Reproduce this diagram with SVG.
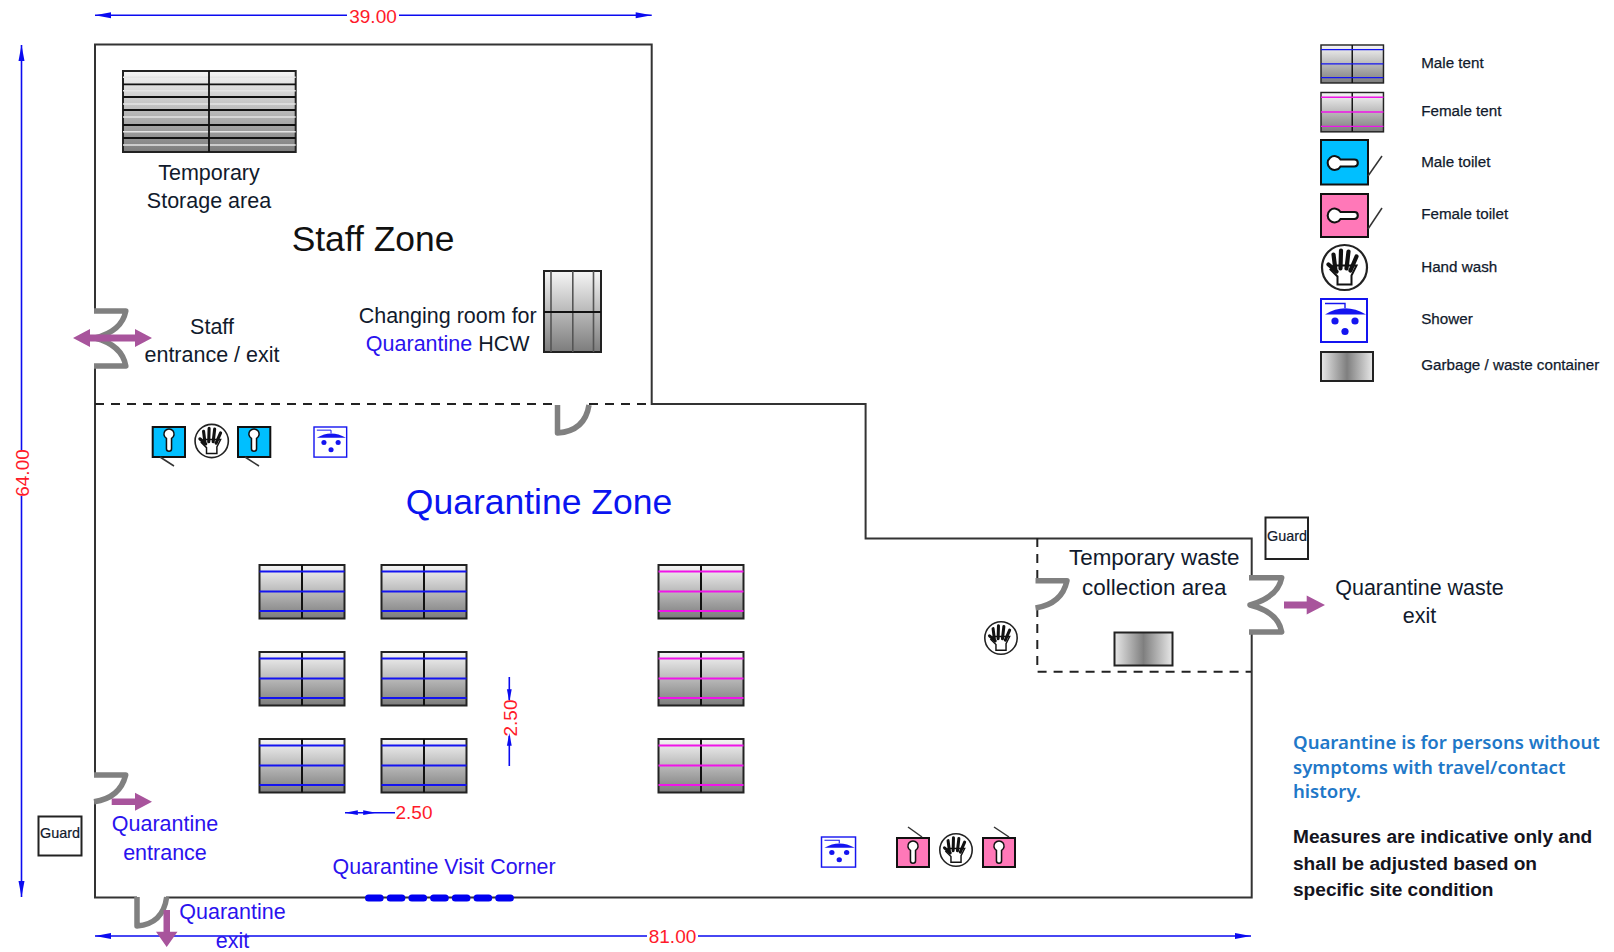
<svg xmlns="http://www.w3.org/2000/svg" width="1614" height="952" viewBox="0 0 1614 952">
<style>
text{font-family:"Liberation Sans",Arial,sans-serif;fill:#111a2c}
.t{font-size:21.5px;text-anchor:middle}
.w{font-size:22.4px}
.b{fill:#2a12ee}
.r{fill:#ff1a2a;font-size:19px;text-anchor:middle}
.l{font-size:15.2px;stroke:#111a2c;stroke-width:.25}
.g{font-size:14.4px;text-anchor:middle;stroke:#111a2c;stroke-width:.2}
.wall{fill:none;stroke:#333;stroke-width:2}
.dash{fill:none;stroke:#222;stroke-width:2;stroke-dasharray:9 7}
.door{fill:none;stroke:#808080;stroke-width:5.5;stroke-linecap:butt;stroke-linejoin:round}
.dim{fill:none;stroke:#0b0bf0;stroke-width:1.6}
.pur{fill:#a8549c}
.note{font-family:"Noto Sans","Open Sans",sans-serif;font-weight:600;font-size:18.6px;fill:#1f78c8}
.blk{font-weight:700;font-size:19.1px;fill:#14141e;stroke:none}
</style>
<defs>
<linearGradient id="vg" x1="0" y1="0" x2="0" y2="1"><stop offset="0" stop-color="#f6f6f6"/><stop offset="1" stop-color="#7c7c7c"/></linearGradient>
<linearGradient id="hg" x1="0" y1="0" x2="1" y2="0"><stop offset="0" stop-color="#e8e8e8"/><stop offset=".5" stop-color="#7f7f7f"/><stop offset="1" stop-color="#e8e8e8"/></linearGradient>
<g id="tent-m"><rect x="0" y="0" width="85" height="53.500" fill="url(#vg)" stroke="#222" stroke-width="2"/><path d="M42.500 0V53.500" stroke="#111" stroke-width="2"/><path d="M0 6.500H85M0 26.500H85M0 46H85" stroke="#1414f0" stroke-width="1.800"/></g>
<g id="tent-f"><rect x="0" y="0" width="85" height="53.500" fill="url(#vg)" stroke="#222" stroke-width="2"/><path d="M42.500 0V53.500" stroke="#111" stroke-width="2"/><path d="M0 6.500H85M0 26.500H85M0 46H85" stroke="#f014e8" stroke-width="1.800"/></g>
<g id="hand"><circle cx="0" cy="0" r="22.500" fill="#fff" stroke="#222" stroke-width="2.200"/>
<path d="M-7 17V9L-14 2L-9 -2H9L12 -2L7 8V17Z" fill="#fff" stroke="#111" stroke-width="2"/>
<path d="M-16 -3L-8 4M-9 3L-11 -13M-4 1L-3.500 -17M2 1L4 -16M6 3L12 -11" stroke="#111" stroke-width="4.200" stroke-linecap="round" fill="none"/></g>
<g id="shower-b"><rect x="0" y="0" width="46" height="43" fill="#fff" stroke="#1414f0" stroke-width="2"/><path d="M4 15.500Q24 3 45 15.500Z" fill="#1414f0"/><path d="M4 4.500H24V9" fill="none" stroke="#1414f0" stroke-width="1.400"/><circle cx="14" cy="22" r="3.600" fill="#1414f0"/><circle cx="34" cy="22" r="3.600" fill="#1414f0"/><circle cx="24" cy="32.500" r="3.600" fill="#1414f0"/></g>
<path id="key-v" d="M-3 -3A6 6 0 1 1 3 -3V9Q3 12 0 12Q-3 12 -3 9Z" fill="#fff" stroke="#111" stroke-width="1.800"/>
<path id="ah" d="M0 0L16 -3L16 3Z" fill="#0b0bf0"/>
</defs>

<g id="connectors">
<path class="wall" d="M95 311V44.500H651.700V404H865.600V538.500H1251.700V578M1251.700 632V897.500H166M137 897.500H95V802M95 775V366"/>
<path class="dash" d="M95 404H557M589 404H651"/>
<path class="dash" d="M1037.300 538V580M1037.300 608V671.700H1251"/>
<path class="dim" d="M95 15.300H347M399 15.300H651.700"/>
<use href="#ah" transform="translate(95 15.300)"/><use href="#ah" transform="translate(651.700 15.300) rotate(180)"/>
<path class="dim" d="M21.500 45V450M21.500 496V897"/>
<use href="#ah" transform="translate(21.500 45) rotate(90)"/><use href="#ah" transform="translate(21.500 897) rotate(-90)"/>
<path class="dim" d="M95 936H647M698 936H1251"/>
<use href="#ah" transform="translate(95 936)"/><use href="#ah" transform="translate(1251 936) rotate(180)"/>
<path class="dim" d="M509.300 677V700M509.300 736V766"/>
<use href="#ah" transform="translate(509.300 702) rotate(-90) scale(.8)"/><use href="#ah" transform="translate(509.300 733) rotate(90) scale(.8)"/>
<path class="dim" d="M345 812.700H395"/>
<use href="#ah" transform="translate(345 812.700) scale(.8)"/><use href="#ah" transform="translate(376 812.700) rotate(180) scale(.8)"/>
</g>

<g id="doors">
<path class="door" d="M94 311H125.800Q122 331 95 338Q122 345 125.800 366H94"/>
<path class="door" d="M557.500 405V433Q585 431 589 405"/>
<path class="door" d="M94 775H125.700Q120 798 94 801.700"/>
<path class="door" d="M137 897V926Q163 924 166.700 897"/>
<path class="door" d="M1035.500 580.700H1067Q1062 604 1035.500 608"/>
<path class="door" d="M1249 577.700H1281.700Q1278 597 1250 605Q1278 612 1281.700 632H1249"/>
</g>

<g id="flows">
<path class="pur" d="M73 338L90 329V334.500H135V329L152 338L135 347V341.500H90V347Z"/>
<path class="pur" d="M111.700 798.500H135V792.700L152 801.700L135 810.700V805H111.700Z"/>
<path class="pur" d="M163.500 910H170V931.700H177.500L166.700 947L156 931.700H163.500Z"/>
<path class="pur" d="M1284 601.500H1306.700V595.500L1325 605L1306.700 614.500V608.500H1284Z"/>
<path d="M368.500 898H515" fill="none" stroke="#0000f0" stroke-width="7" stroke-linecap="round" stroke-dasharray="11.700 10"/>
</g>

<g id="storage">
<rect x="123" y="71" width="172.700" height="81" fill="url(#vg)" stroke="#222" stroke-width="2"/>
<path d="M123 77.300H295.700M123 90.700H295.700M123 104H295.700M123 117H295.700M123 131.700H295.700M123 145H295.700" stroke="#e4e4e4" stroke-width="1.400"/>
<path d="M123 84.300H295.700M123 97H295.700M123 110H295.700M123 125H295.700M123 138H295.700M209 71V152" stroke="#111" stroke-width="1.800"/>
<text class="t" x="209" y="180">Temporary</text><text class="t" x="209" y="208">Storage area</text>
</g>
<g id="staff-zone"><text x="373" y="250.500" text-anchor="middle" font-size="35.400" style="fill:#111">Staff Zone</text></g>
<g id="changing-room">
<rect x="544" y="271" width="57" height="81" fill="url(#vg)" stroke="#222" stroke-width="2"/>
<path d="M551 271V352M572.800 271V352M593.500 271V352" stroke="#555" stroke-width="1.600"/><path d="M544 312H601" stroke="#111" stroke-width="2"/>
<text class="t" x="447.700" y="323">Changing room for</text>
<text class="t" x="447.700" y="351"><tspan class="b">Quarantine</tspan> HCW</text>
</g>
<g id="staff-entrance"><text class="t" x="212" y="334">Staff</text><text class="t" x="212" y="362">entrance / exit</text></g>
<g id="quarantine-zone"><text x="539" y="513.500" text-anchor="middle" font-size="35.500" style="fill:#0a14f0">Quarantine Zone</text></g>

<g id="toilet-m1"><rect x="152.700" y="427" width="32.300" height="30" fill="#00bfff" stroke="#111" stroke-width="2"/><use href="#key-v" transform="translate(169 441) scale(.85)"/><path d="M160 457L174 466" stroke="#333" stroke-width="1.500"/></g>
<g id="hand-1"><use href="#hand" transform="translate(211.700 441) scale(.74)"/></g>
<g id="toilet-m2"><rect x="238" y="427" width="32.300" height="30" fill="#00bfff" stroke="#111" stroke-width="2"/><use href="#key-v" transform="translate(254 441) scale(.85)"/><path d="M245 457L259 466" stroke="#333" stroke-width="1.500"/></g>
<g id="shower-1"><use href="#shower-b" transform="translate(314 427) scale(.71 .7)"/></g>

<g id="tents-male">
<use href="#tent-m" x="259.500" y="565"/><use href="#tent-m" x="381.500" y="565"/>
<use href="#tent-m" x="259.500" y="652"/><use href="#tent-m" x="381.500" y="652"/>
<use href="#tent-m" x="259.500" y="739"/><use href="#tent-m" x="381.500" y="739"/>
</g>
<g id="tents-female">
<use href="#tent-f" x="658.500" y="565"/><use href="#tent-f" x="658.500" y="652"/><use href="#tent-f" x="658.500" y="739"/>
</g>

<g id="waste-area">
<text class="t w" x="1154.300" y="565">Temporary waste</text><text class="t w" x="1154.300" y="595">collection area</text>
<rect x="1114.500" y="632.500" width="58" height="33" fill="url(#hg)" stroke="#222" stroke-width="2"/>
</g>
<g id="hand-2"><use href="#hand" transform="translate(1001 638) scale(.72)"/></g>
<g id="guard-1"><rect x="1265.500" y="517.500" width="42.500" height="41.500" fill="#fff" stroke="#222" stroke-width="2"/><text class="g" x="1287" y="541">Guard</text></g>
<g id="waste-exit"><text class="t" x="1419.500" y="595">Quarantine waste</text><text class="t" x="1419.500" y="623">exit</text></g>

<g id="guard-2"><rect x="38.500" y="816.500" width="43" height="39" fill="#fff" stroke="#222" stroke-width="2"/><text class="g" x="60" y="838">Guard</text></g>
<g id="q-entrance"><text class="t b" x="165" y="831">Quarantine</text><text class="t b" x="165" y="860">entrance</text></g>
<g id="q-exit"><text class="t b" x="232.500" y="918.500">Quarantine</text><text class="t b" x="232.500" y="947.500">exit</text></g>
<g id="q-visit"><text class="b" x="332.500" y="874" font-size="21.400">Quarantine Visit Corner</text></g>

<g id="shower-2"><use href="#shower-b" transform="translate(821.500 837) scale(.74 .7)"/></g>
<g id="toilet-f1"><rect x="897" y="838" width="32" height="29" fill="#ff78b8" stroke="#111" stroke-width="2"/><use href="#key-v" transform="translate(913 853) scale(.85)"/><path d="M922 837L908 827" stroke="#333" stroke-width="1.500"/></g>
<g id="hand-3"><use href="#hand" transform="translate(956 850) scale(.72)"/></g>
<g id="toilet-f2"><rect x="983" y="838" width="32" height="29" fill="#ff78b8" stroke="#111" stroke-width="2"/><use href="#key-v" transform="translate(999 853) scale(.85)"/><path d="M1009 837L994 827" stroke="#333" stroke-width="1.500"/></g>

<g id="dim-labels">
<text class="r" x="373" y="23">39.00</text>
<text class="r" transform="translate(28.500 473) rotate(-90)">64.00</text>
<text class="r" x="672.500" y="943">81.00</text>
<text class="r" transform="translate(516.500 718) rotate(-90)">2.50</text>
<text class="r" x="414" y="819">2.50</text>
</g>

<g id="legend">
<g id="legend-male-tent"><use href="#tent-m" transform="translate(1321 45) scale(.735 .71)"/><text class="l" x="1421.200" y="68">Male tent</text></g>
<g id="legend-female-tent"><use href="#tent-f" transform="translate(1321 92.500) scale(.735 .735)"/><text class="l" x="1421.200" y="116">Female tent</text></g>
<g id="legend-male-toilet"><rect x="1321" y="140" width="47" height="44.500" fill="#00bfff" stroke="#111" stroke-width="2"/><use href="#key-v" transform="translate(1344 163) rotate(-90) scale(1.150)"/><path d="M1368 176L1382 156" stroke="#333" stroke-width="1.500"/><text class="l" x="1421.200" y="167">Male toilet</text></g>
<g id="legend-female-toilet"><rect x="1321" y="194" width="47" height="43" fill="#ff78b8" stroke="#111" stroke-width="2"/><use href="#key-v" transform="translate(1344 215.500) rotate(-90) scale(1.150)"/><path d="M1368 229L1382 208" stroke="#333" stroke-width="1.500"/><text class="l" x="1421.200" y="219">Female toilet</text></g>
<g id="legend-hand"><use href="#hand" transform="translate(1344.500 267.500)"/><text class="l" x="1421.200" y="272">Hand wash</text></g>
<g id="legend-shower"><use href="#shower-b" transform="translate(1321 299)"/><text class="l" x="1421.200" y="324">Shower</text></g>
<g id="legend-garbage"><rect x="1321" y="352" width="52" height="29" fill="url(#hg)" stroke="#222" stroke-width="2"/><text class="l" x="1421.200" y="370">Garbage / waste container</text></g>
</g>

<g id="notes">
<text class="note" x="1293" y="749">Quarantine is for persons without</text>
<text class="note" x="1293" y="774">symptoms with travel/contact</text>
<text class="note" x="1293" y="797.500">history.</text>
<text class="blk" x="1293" y="843">Measures are indicative only and</text>
<text class="blk" x="1293" y="870">shall be adjusted based on</text>
<text class="blk" x="1293" y="895.500">specific site condition</text>
</g>
</svg>
